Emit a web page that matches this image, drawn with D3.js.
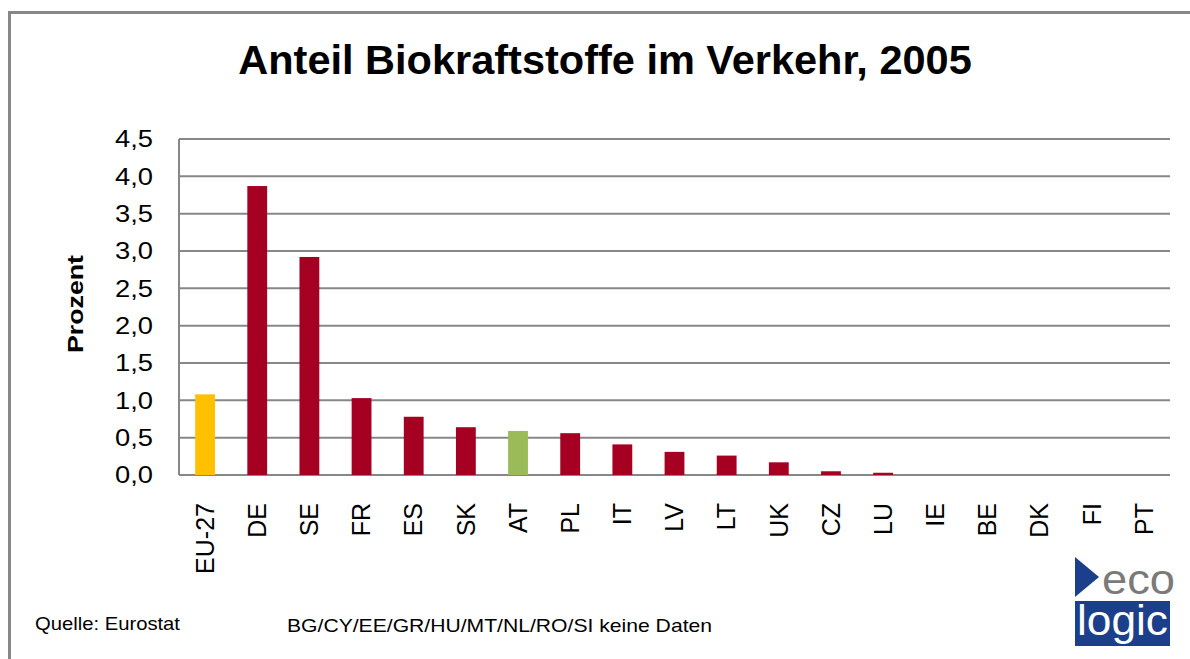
<!DOCTYPE html>
<html>
<head>
<meta charset="utf-8">
<script src="https://cdn.jsdelivr.net/npm/d3@7"></script>
<style>
  body { margin: 0; background: #fff; }
  svg { display: block; font-family: "Liberation Sans", Arial, sans-serif; }
</style>
</head>
<body>
<div id="chart"></div>
<script>
// data
const countries = ["EU-27", "DE", "SE", "FR", "ES", "SK", "AT", "PL", "IT", "LV", "LT", "UK", "CZ", "LU", "IE", "BE", "DK", "FI", "PT"];
const shares = [1.08, 3.87, 2.92, 1.03, 0.78, 0.64, 0.59, 0.56, 0.41, 0.31, 0.26, 0.17, 0.05, 0.03, 0, 0, 0, 0, 0];
const yTicks = [0, 0.5, 1, 1.5, 2, 2.5, 3, 3.5, 4, 4.5];

const W = 1190, H = 659;
const plotLeft = 179, plotRight = 1170, plotTop = 139, plotBottom = 475;

const svg = d3.select("#chart").append("svg")
    .attr("width", W).attr("height", H);

// frame
svg.append("rect")
    .attr("x", 9.5).attr("y", 12.5)
    .attr("width", W + 20).attr("height", H + 20)
    .attr("fill", "none").attr("stroke", "#878787").attr("stroke-width", 3);

// title
svg.append("text")
    .attr("x", 605).attr("y", 74)
    .attr("text-anchor", "middle")
    .attr("font-size", 41.5).attr("font-weight", "bold")
    .text("Anteil Biokraftstoffe im Verkehr, 2005");

const x = d3.scaleBand().domain(countries).range([plotLeft, plotRight])
    .paddingInner(0.62).paddingOuter(0.31);
const y = d3.scaleLinear().domain([0, 4.5]).range([plotBottom, plotTop]);

// gridlines
svg.append("g").selectAll("line").data(yTicks).join("line")
    .attr("x1", plotLeft).attr("x2", plotRight)
    .attr("y1", d => y(d)).attr("y2", d => y(d))
    .attr("stroke", "#878787").attr("stroke-width", 2);

svg.append("line")
    .attr("x1", plotLeft).attr("x2", plotLeft)
    .attr("y1", y(4.5)).attr("y2", y(0))
    .attr("stroke", "#878787").attr("stroke-width", 2);

// tick labels
const fmt = d => d3.format(".1f")(d).replace(".", ",");
svg.append("g").selectAll("text").data(yTicks).join("text")
    .attr("x", 153).attr("y", d => y(d))
    .attr("dy", "0.35em")
    .attr("text-anchor", "end")
    .attr("font-size", 24)
    .attr("textLength", 38).attr("lengthAdjust", "spacingAndGlyphs")
    .text(fmt);

// bars
svg.append("g").selectAll("rect").data(countries).join("rect")
    .attr("x", d => x(d))
    .attr("width", x.bandwidth())
    .attr("y", (d, i) => y(shares[i]))
    .attr("height", (d, i) => y(0) - y(shares[i]))
    .attr("fill", d => d === "EU-27" ? "#ffc000" : d === "AT" ? "#9bbb59" : "#a50021");

// category labels
svg.append("g").selectAll("text").data(countries).join("text")
    .attr("transform", d => `translate(${x(d) + x.bandwidth() / 2},503) rotate(-90)`)
    .attr("dy", "0.35em")
    .attr("text-anchor", "end")
    .attr("font-size", 25)
    .text(d => d);

// y axis title
svg.append("text")
    .attr("transform", "translate(75,304) rotate(-90)")
    .attr("dy", "0.35em")
    .attr("text-anchor", "middle")
    .attr("font-size", 22).attr("font-weight", "bold")
    .attr("textLength", 98).attr("lengthAdjust", "spacingAndGlyphs")
    .text("Prozent");

// footer
svg.append("text")
    .attr("x", 35).attr("y", 630)
    .attr("font-size", 19)
    .attr("textLength", 145).attr("lengthAdjust", "spacingAndGlyphs")
    .text("Quelle: Eurostat");

svg.append("text")
    .attr("x", 287).attr("y", 632)
    .attr("font-size", 19)
    .attr("textLength", 425).attr("lengthAdjust", "spacingAndGlyphs")
    .text("BG/CY/EE/GR/HU/MT/NL/RO/SI keine Daten");

// ecologic logo
const logo = svg.append("g");
logo.append("path")
    .attr("d", "M1075,557 L1099,577 L1075,597 Z")
    .attr("fill", "#1c3f8c");
logo.append("text")
    .attr("x", 1102).attr("y", 594)
    .attr("font-size", 42).attr("fill", "#7a7a7a")
    .attr("textLength", 73).attr("lengthAdjust", "spacingAndGlyphs")
    .text("eco");
logo.append("rect")
    .attr("x", 1075).attr("y", 601)
    .attr("width", 95).attr("height", 45)
    .attr("fill", "#1c3f8c");
logo.append("text")
    .attr("x", 1077).attr("y", 635)
    .attr("font-size", 42).attr("fill", "#fff")
    .attr("textLength", 91).attr("lengthAdjust", "spacingAndGlyphs")
    .text("logic");
</script>
</body>
</html>
